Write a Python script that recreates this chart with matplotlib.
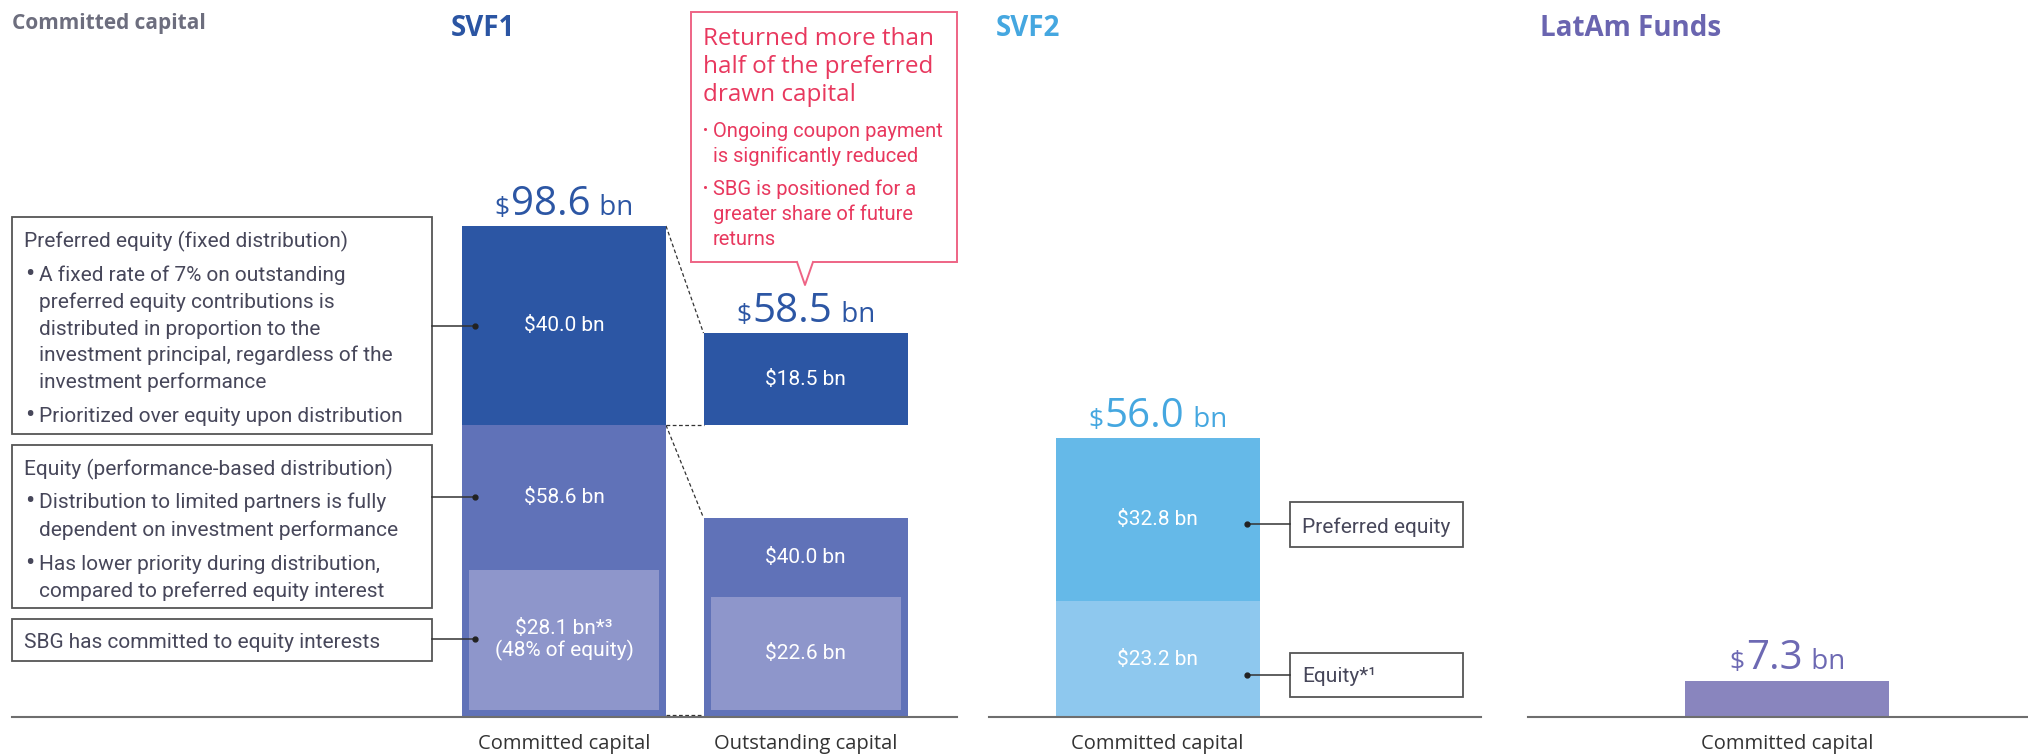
import matplotlib.pyplot as plt
from matplotlib.patches import Rectangle, Polygon
from matplotlib.lines import Line2D
from matplotlib.offsetbox import TextArea, HPacker, AnnotationBbox

W, H = 2028, 755
HEAD = ['Open Sans', 'DejaVu Sans']
BODY = ['Roboto', 'DejaVu Sans']

# SVF1, $ bn
svf1_labels = ['Committed capital', 'Outstanding capital']
svf1_preferred = [40.0, 18.5]
svf1_equity = [58.6, 40.0]
svf1_sbg = [28.1, 22.6]
svf1_total = [98.6, 58.5]

# SVF2, $ bn
svf2_labels = ['Committed capital']
svf2_preferred = [32.8]
svf2_equity = [23.2]
svf2_total = [56.0]

# LatAm Funds, $ bn
latam_labels = ['Committed capital']
latam_total = [7.3]

DARK = '#2c56a4'
MID = '#6072b8'
LIGHT = '#8e96cb'
SKY = '#65b9e8'
SKY_LIGHT = '#8ec8ee'
LATAM = '#8985be'
PINK = '#e8385e'
GREY_TXT = '#47475a'

PX_PER_BN = 4.98
UNIT = 241.5          # pixels between two bars
BW = 204 / UNIT       # bar width
INSET = 7 / UNIT      # inner bar inset (x)
INSET_Y = 7 / PX_PER_BN

fig = plt.figure(figsize=(W / 100, H / 100), dpi=100)


def px(x, y):
    return x / W, 1 - y / H


def ftext(x, y, s, **kw):
    fig.text(*px(x, y), s, **kw)


def fbox(x0, y0, x1, y1, ec='#555555', lw=1.3):
    fig.add_artist(Rectangle(px(x0, y1), (x1 - x0) / W, (y1 - y0) / H,
                             transform=fig.transFigure, fill=False, ec=ec, lw=lw))


def connector(x0, x1, y):
    fig.add_artist(Line2D([x0 / W, x1 / W], [1 - y / H] * 2, transform=fig.transFigure,
                          color='#333333', lw=1.1))
    fig.add_artist(Line2D([x1 / W], [1 - y / H], transform=fig.transFigure,
                          marker='o', ms=3.5, color='#222222'))


def panel(x0, x1, center):
    ax = fig.add_axes([x0 / W, 38 / H, (x1 - x0) / W, 697 / H])
    ax.set_xlim(-(center - x0) / UNIT, (x1 - center) / UNIT)
    ax.set_ylim(0, 697 / PX_PER_BN)
    for s in ['top', 'right', 'left']:
        ax.spines[s].set_visible(False)
    ax.spines['bottom'].set_color('#6e6e6e')
    ax.spines['bottom'].set_linewidth(1.5)
    ax.set_yticks([])
    ax.tick_params(axis='x', length=0, pad=12.5)
    ax.patch.set_alpha(0)
    return ax


def total_label(ax, x, y, value, color):
    parts = [TextArea('$', textprops=dict(fontsize=19, color=color, family=HEAD)),
             TextArea(f'{value:.1f}', textprops=dict(fontsize=29, color=color, family=HEAD)),
             TextArea(' bn', textprops=dict(fontsize=20, color=color, family=HEAD))]
    pack = HPacker(children=parts, align='baseline', pad=0, sep=1)
    ab = AnnotationBbox(pack, (x, y), xybox=(0, 1), xycoords='data',
                        boxcoords='offset points', box_alignment=(0.5, 0),
                        frameon=False, pad=0)
    ax.add_artist(ab)


def white(ax, x, y, s, size=15):
    ax.text(x, y, s, ha='center', va='center', color='white', fontsize=size,
            family=BODY, linespacing=1.15)


# ---------------- SVF1 ----------------
ax1 = panel(12, 957, 564)
xs = [0, 1]
pref_bottom = [svf1_equity[0], svf1_equity[0]]
pref_top = [pref_bottom[i] + svf1_preferred[i] for i in xs]
ax1.bar(xs, svf1_equity, BW, color=MID, zorder=2)
ax1.bar(xs, svf1_preferred, BW, bottom=pref_bottom, color=DARK, zorder=2)
ax1.bar(xs, svf1_sbg, BW - 2 * INSET, bottom=INSET_Y, color=LIGHT, zorder=3)
ax1.set_xticks(xs, svf1_labels, fontsize=14.5, color='#333333', family=HEAD)

for i in xs:
    total_label(ax1, i, pref_top[i], svf1_total[i], DARK)
    white(ax1, i, pref_bottom[i] + svf1_preferred[i] / 2, f'${svf1_preferred[i]:.1f} bn')
    top_sbg = INSET_Y + svf1_sbg[i]
    white(ax1, i, (top_sbg + svf1_equity[i]) / 2, f'${svf1_equity[i]:.1f} bn')
white(ax1, 0, INSET_Y + svf1_sbg[0] / 2, f'${svf1_sbg[0]:.1f} bn*\u00b3\n(48% of equity)')
white(ax1, 1, INSET_Y + svf1_sbg[1] / 2, f'${svf1_sbg[1]:.1f} bn')

# dashed guides between committed and outstanding
r, l = BW / 2, 1 - BW / 2
dash = dict(color='#333333', lw=0.9, ls=(0, (3, 2)), zorder=1)
ax1.plot([r, l], [pref_top[0], pref_top[1]], **dash)
ax1.plot([r, l], [svf1_equity[0]] * 2, **dash)
ax1.plot([r, l], [svf1_equity[0], svf1_equity[1]], **dash)
ax1.plot([r, l], [0.4, 0.4], **dash)

# ---------------- SVF2 ----------------
ax2 = panel(989, 1481, 1157.5)
ax2.bar([0], svf2_equity, BW, color=SKY_LIGHT)
ax2.bar([0], svf2_preferred, BW, bottom=svf2_equity, color=SKY)
ax2.set_xticks([0], svf2_labels, fontsize=14.5, color='#333333', family=HEAD)
total_label(ax2, 0, svf2_total[0], svf2_total[0], '#45a7e0')
white(ax2, 0, svf2_equity[0] + svf2_preferred[0] / 2, f'${svf2_preferred[0]:.1f} bn')
white(ax2, 0, svf2_equity[0] / 2, f'${svf2_equity[0]:.1f} bn')

# ---------------- LatAm ----------------
ax3 = panel(1528, 2028, 1787)
ax3.bar([0], latam_total, BW, color=LATAM)
ax3.set_xticks([0], latam_labels, fontsize=14.5, color='#333333', family=HEAD)
total_label(ax3, 0, latam_total[0], latam_total[0], '#6d69b3')

# ---------------- titles ----------------
ftext(12, 29, 'Committed capital', fontsize=15, fontweight='bold', color='#6d6e7e', family=HEAD)
ftext(451, 36, 'SVF1', fontsize=20, fontweight='bold', color='#2b55a3', family=HEAD)
ftext(996, 36, 'SVF2', fontsize=20, fontweight='bold', color='#45a7e0', family=HEAD)
ftext(1540, 36, 'LatAm Funds', fontsize=20, fontweight='bold', color='#6a65b0', family=HEAD)

# ---------------- left explanation boxes ----------------
tb = dict(fontsize=15, color=GREY_TXT, family=BODY, va='baseline')
bul = dict(fontsize=20, color=GREY_TXT, family=BODY, va='baseline')
fbox(12, 217, 432, 434)
ftext(24, 247, 'Preferred equity (fixed distribution)', **tb)
for y in [282, 423]:
    ftext(25, y, '\u2022', **bul)
for y, s in [(281, 'A fixed rate of 7% on outstanding'),
             (308, 'preferred equity contributions is'),
             (335, 'distributed in proportion to the'),
             (361, 'investment principal, regardless of the'),
             (388, 'investment performance'),
             (422, 'Prioritized over equity upon distribution')]:
    ftext(39, y, s, **tb)
connector(432, 475, 326)

fbox(12, 445, 432, 608)
ftext(24, 475, 'Equity (performance-based distribution)', **tb)
for y in [509, 571]:
    ftext(25, y, '\u2022', **bul)
for y, s in [(508, 'Distribution to limited partners is fully'),
             (536, 'dependent on investment performance'),
             (570, 'Has lower priority during distribution,'),
             (597, 'compared to preferred equity interest')]:
    ftext(39, y, s, **tb)
connector(432, 475, 497)

fbox(12, 619, 432, 661)
ftext(24, 648, 'SBG has committed to equity interests', **tb)
connector(432, 475, 639)

# ---------------- SVF2 boxes ----------------
fbox(1290, 502, 1463, 547)
ftext(1302, 533, 'Preferred equity', **tb)
connector(1290, 1247, 524)
fbox(1290, 653, 1463, 697)
ftext(1302, 682, 'Equity*\u00b9', **tb)
connector(1290, 1247, 675)

# ---------------- callout ----------------
fbox(691, 12, 957, 262, ec='#ee6485', lw=1.4)
fig.add_artist(Polygon([px(797, 261), px(805, 285), px(813, 261)], closed=True,
                       transform=fig.transFigure, fc='white', ec='none', zorder=5))
fig.add_artist(Line2D([797 / W, 805 / W, 813 / W], [1 - 262 / H, 1 - 285 / H, 1 - 262 / H],
                      transform=fig.transFigure, color='#ee6485', lw=1.4, zorder=6))
ct = dict(fontsize=17.5, color=PINK, family=HEAD, va='baseline')
for y, s in [(45, 'Returned more than'), (73, 'half of the preferred'), (101, 'drawn capital')]:
    ftext(703, y, s, **ct)
cb = dict(fontsize=14.5, color=PINK, family=BODY, va='baseline')
for y in [135, 193]:
    ftext(703, y, '\u2022', fontsize=11, color=PINK, family=BODY, va='baseline')
for y, s in [(137, 'Ongoing coupon payment'), (162, 'is significantly reduced'),
             (195, 'SBG is positioned for a'), (220, 'greater share of future'),
             (245, 'returns')]:
    ftext(713, y, s, **cb)

plt.savefig('out.png', dpi=100)
